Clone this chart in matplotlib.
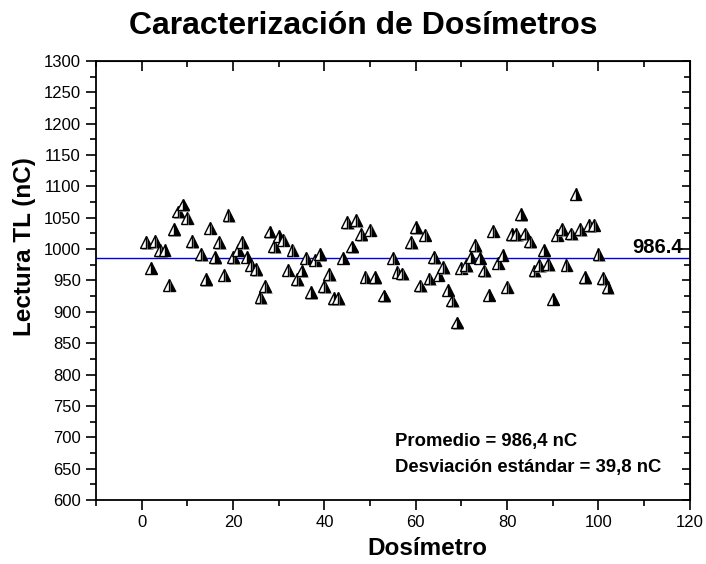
import matplotlib
matplotlib.use("Agg")
import matplotlib.pyplot as plt
import matplotlib.patheffects as pe
from matplotlib.ticker import MultipleLocator

plt.rcParams["font.family"] = ["Liberation Sans", "DejaVu Sans"]

# Lecturas TL por dosímetro (nC)
dosimetro = [1, 2, 3, 4, 5, 6, 7, 8, 9, 10, 11, 13, 14, 15, 16, 17, 18, 19, 20,
             21, 22, 23, 24, 25, 26, 27, 28, 29, 30, 31, 32, 33, 34, 35, 36, 37,
             38, 39, 40, 41, 42, 43, 44, 45, 46, 47, 48, 49, 50, 51, 53, 55, 56,
             57, 59, 60, 61, 62, 63, 64, 65, 66, 67, 68, 69, 70, 71, 72, 73, 74,
             75, 76, 77, 78, 79, 80, 81, 82, 83, 84, 85, 86, 87, 88, 89, 90, 91,
             92, 93, 94, 95, 96, 97, 98, 99, 100, 101, 102]
lectura = [1011, 970, 1013, 998, 999, 943, 1032, 1060, 1071, 1050, 1013, 992,
           952, 1034, 987, 1011, 959, 1054, 987, 999, 1011, 988, 975, 968, 923,
           941, 1028, 1005, 1021, 1015, 967, 999, 952, 966, 986, 931, 983, 992,
           941, 960, 922, 922, 986, 1043, 1004, 1046, 1024, 956, 1031, 955, 926,
           986, 964, 961, 1011, 1035, 942, 1023, 953, 987, 959, 971, 935, 918,
           883, 970, 974, 988, 1006, 986, 966, 927, 1029, 978, 991, 940, 1024,
           1024, 1056, 1025, 1012, 966, 974, 998, 976, 921, 1023, 1032, 975,
           1025, 1088, 1032, 955, 1038, 1039, 992, 954, 939]

promedio = 986.4
desviacion = 39.8

fig = plt.figure(figsize=(7.06, 5.64), dpi=100)
ax = fig.add_axes([0.136, 0.1135, 0.841, 0.7785])

ax.axhline(promedio, color="#0000e6", lw=1.0, zorder=2)
ax.plot(dosimetro, lectura, linestyle="none", marker="^", markersize=8.5,
        fillstyle="right", markerfacecolor="black", markerfacecoloralt="white",
        markeredgecolor="black", markeredgewidth=1.0, zorder=3,
        path_effects=[pe.SimplePatchShadow(offset=(1.2, -1.2), shadow_rgbFace="0.55", alpha=0.8),
                      pe.Normal()])

ax.set_xlim(-10, 120)
ax.set_ylim(600, 1300)
ax.xaxis.set_major_locator(MultipleLocator(20))
ax.xaxis.set_minor_locator(MultipleLocator(10))
ax.yaxis.set_major_locator(MultipleLocator(50))
ax.yaxis.set_minor_locator(MultipleLocator(25))

for s in ax.spines.values():
    s.set_linewidth(1.3)

ax.tick_params(which="both", direction="out", top=False, right=False,
               labelsize=12, width=1.2, pad=4)
ax.tick_params(which="major", length=7)
ax.tick_params(which="minor", length=4)

# ticks hacia dentro en los ejes superior y derecho
top = ax.secondary_xaxis("top")
top.xaxis.set_major_locator(MultipleLocator(20))
top.xaxis.set_minor_locator(MultipleLocator(10))
top.tick_params(which="both", direction="in", labeltop=False, width=1.2)
top.tick_params(which="major", length=7)
top.tick_params(which="minor", length=4)
right = ax.secondary_yaxis("right")
right.yaxis.set_major_locator(MultipleLocator(50))
right.yaxis.set_minor_locator(MultipleLocator(25))
right.tick_params(which="both", direction="in", labelright=False, width=1.2)
right.tick_params(which="major", length=6)
right.tick_params(which="minor", length=4)

ax.text(118.5, 1003, "986.4", ha="right", va="center",
        fontsize=14.5, fontweight="bold")
ax.text(55.4, 694, "Promedio = 986,4 nC", fontsize=13.3, fontweight="bold",
        va="center")
ax.text(55.4, 651, "Desviación estándar = 39,8 nC", fontsize=13.3,
        fontweight="bold", va="center")

fig.text(0.515, 0.954, "Caracterización de Dosímetros", ha="center",
         va="center", fontsize=23, fontweight="bold")
fig.text(0.605, 0.028, "Dosímetro", ha="center", va="center", fontsize=17.5,
         fontweight="bold")
fig.text(0.034, 0.562, "Lectura TL (nC)", ha="center", va="center",
         rotation=90, fontsize=17.5, fontweight="bold")

fig.savefig("out.png", dpi=100)
